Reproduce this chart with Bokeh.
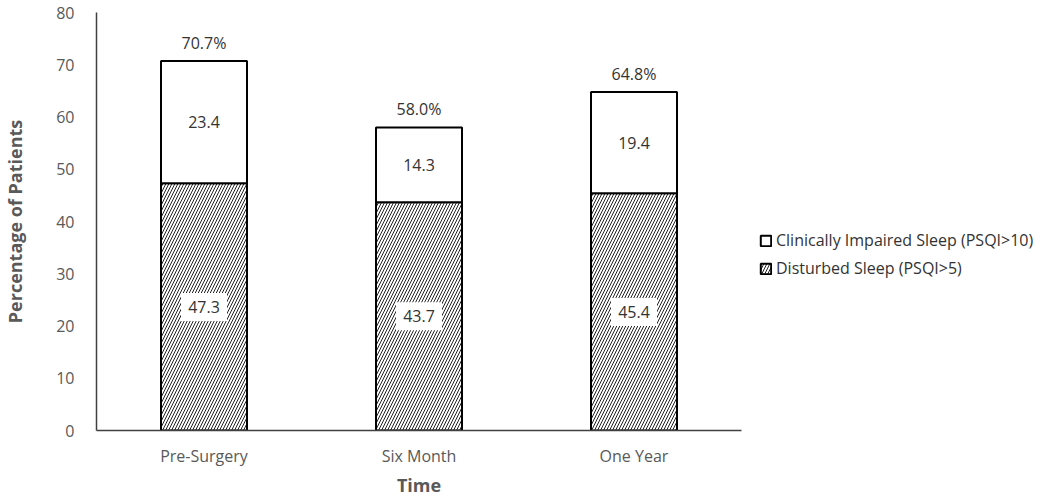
from bokeh.plotting import figure
from bokeh.models import ColumnDataSource, LabelSet, Legend, LegendItem, FactorRange
from bokeh.core.properties import value
from bokeh.embed import file_html
from bokeh.resources import INLINE

categories = ["Pre-Surgery", "Six Month", "One Year"]
disturbed = [47.3, 43.7, 45.4]
impaired = [23.4, 14.3, 19.4]
total_labels = ["70.7%", "58.0%", "64.8%"]
y_ticks = [0, 10, 20, 30, 40, 50, 60, 70, 80]

FONT = "Open Sans"
TXT = "#333333"
TICK = "#595959"

totals = [d + i for d, i in zip(disturbed, impaired)]
src = ColumnDataSource(dict(
    cat=categories,
    disturbed=disturbed,
    impaired=impaired,
    top=totals,
    mid_d=[d / 2 for d in disturbed],
    mid_i=[d + i / 2 for d, i in zip(disturbed, impaired)],
    d_txt=[f"{v:.1f}" for v in disturbed],
    i_txt=[f"{v:.1f}" for v in impaired],
    t_txt=total_labels,
))

p = figure(x_range=FactorRange(*categories, range_padding=0), y_range=(0, 80),
           frame_width=645, frame_height=418, output_backend="svg", toolbar_location=None,
           min_border_left=85, min_border_right=5, min_border_top=12, min_border_bottom=2)
p.outline_line_color = None
p.xgrid.grid_line_color = None
p.ygrid.grid_line_color = None
p.background_fill_color = "white"

r1 = p.vbar(x="cat", top="disturbed", bottom=0, width=0.4, source=src,
            fill_color="white", line_color="black", line_width=2,
            hatch_pattern="/", hatch_color="#222222", hatch_scale=6, hatch_weight=1)
r2 = p.vbar(x="cat", top="top", bottom="disturbed", width=0.4, source=src,
            fill_color="white", line_color="black", line_width=2)

# white boxes behind the hatched-segment labels
p.rect(x="cat", y="mid_d", width=46, height=28, width_units="screen", height_units="screen",
       source=src, fill_color="white", line_color=None)

common = dict(source=src, text_align="center", text_baseline="middle",
              text_font=value(FONT), text_font_size="16px", text_color=TXT)
lab_d = LabelSet(x="cat", y="mid_d", text="d_txt", **common)
lab_i = LabelSet(x="cat", y="mid_i", text="i_txt", **common)
lab_t = LabelSet(x="cat", y="top", text="t_txt", y_offset=18, **common)
for l in (lab_d, lab_i, lab_t):
    p.add_layout(l)

for ax in (p.xaxis[0], p.yaxis[0]):
    ax.major_tick_line_color = None
    ax.minor_tick_line_color = None
    ax.axis_line_color = "#404040"
    ax.axis_line_width = 1.5
    ax.major_label_text_font = FONT
    ax.major_label_text_font_size = "16px"
    ax.major_label_text_color = TICK
    ax.axis_label_text_font = FONT
    ax.axis_label_text_font_size = "18px"
    ax.axis_label_text_font_style = "bold"
    ax.axis_label_text_color = TICK

p.yaxis.ticker = y_ticks
p.yaxis.major_label_standoff = 16
p.yaxis.axis_label = "Percentage of Patients"
p.yaxis.axis_label_standoff = 26
p.xaxis.axis_label = "Time"
p.xaxis.major_label_standoff = 8
p.xaxis.axis_label_standoff = 3

legend = Legend(items=[
    LegendItem(label="Clinically Impaired Sleep (PSQI>10)", renderers=[r2]),
    LegendItem(label="Disturbed Sleep (PSQI>5)", renderers=[r1]),
], location=(18, 151), label_text_font=FONT, label_text_font_size="16px",
    label_text_color=TXT, glyph_width=13, glyph_height=13, spacing=6,
    border_line_color=None, background_fill_alpha=0, label_standoff=4)
p.add_layout(legend, "right")

open("out.html", "w").write(file_html(p, INLINE))
